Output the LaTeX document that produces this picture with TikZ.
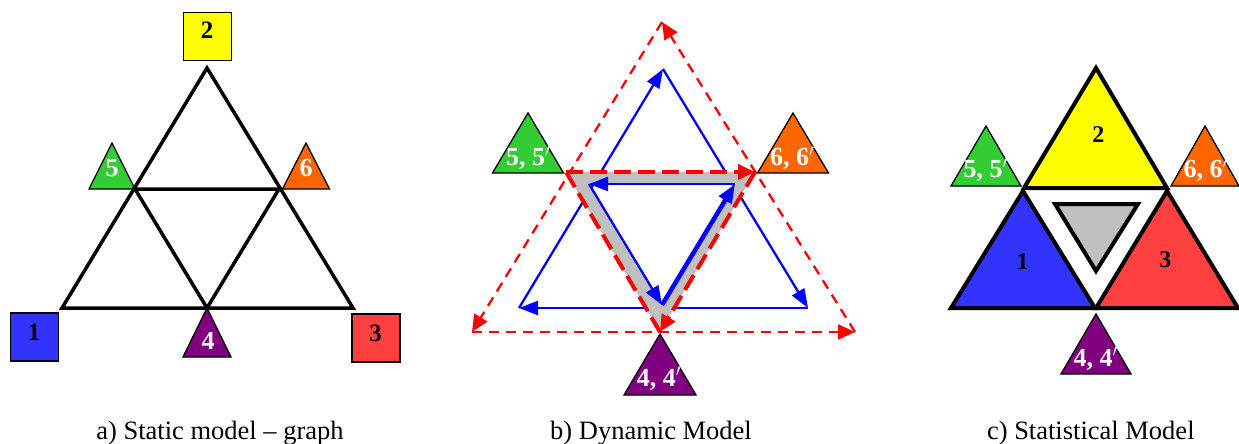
\documentclass[tikz,border=0pt]{standalone}
\usepackage{fontspec}
\setmainfont{Liberation Serif}
\usetikzlibrary{arrows.meta}
\usetikzlibrary{calc}

\definecolor{sqyellow}{HTML}{FFFF00}
\definecolor{sqblue}{HTML}{3333FF}
\definecolor{sqred}{HTML}{FF4040}
\definecolor{trigreen}{HTML}{33CC33}
\definecolor{triorange}{HTML}{FF6600}
\definecolor{tripurple}{HTML}{800080}
\definecolor{silver}{HTML}{C0C0C0}

\begin{document}
\begin{tikzpicture}[x=1pt, y=-1pt, every node/.style={inner sep=0pt},
    sq/.style={draw=black, line width=1.5pt, minimum size=48pt},
    sqlbl/.style={anchor=base, font=\fontsize{25}{25}\selectfont\bfseries},
    tri/.style={draw=black, line width=1.3pt},
    trilbl/.style={anchor=base west, text=white, font=\fontsize{26}{26}\selectfont\bfseries},
    edge/.style={draw=black, line width=3.5pt},
    bigtri/.style={draw=black, line width=4pt},
    bluearc/.style={draw=blue, line width=2.3pt, -{Triangle[length=19pt, width=14pt]}},
    redarc/.style={draw=red, line width=2.3pt, dash pattern=on 10pt off 7pt, -{Triangle[length=17pt, width=15pt]}},
    redthick/.style={draw=red, line width=4pt, dash pattern=on 17pt off 7pt},
    capt/.style={anchor=base, font=\fontsize{26.5}{26.5}\selectfont}]

        \useasboundingbox (0,0) rectangle (1239,444);

        % Draw the small triangles of all three panels
        \foreach \nm/\x/\y/\w/\h/\col in {a5/112/143/46/46/trigreen, a6/306/143/47/46/triorange,
            a4/207/308/48/49/tripurple, b5/528/113/71/60/trigreen, b6/793/113/71/60/triorange,
            b4/660/334/72/61/tripurple, c5/986/126/70/60/trigreen, c6/1205/126/68/60/triorange,
            c4/1096/314/70/60/tripurple}
        {
          \filldraw[tri, fill=\col] (\x,\y) coordinate (top\nm) -- ++({-\w/2},\h) -- ++(\w,0) -- cycle;
        }

        % Panel a: the graph
        \coordinate (a1) at (62,308);
        \coordinate (a2) at (207,68);
        \coordinate (a3) at (353,308);
        \coordinate (m5) at (135,189);
        \coordinate (m6) at (279,189);
        \coordinate (m4) at (207,308);

        \draw[edge] (a1) -- (a2) -- (a3) -- cycle;
        \draw[edge] (m5) -- (m6) -- (m4) -- cycle;

        \node[sq, fill=sqyellow] (sq2) at (207.5,36.5) {};
        \node[sq, fill=sqblue] (sq1) at (34.5,337) {};
        \node[sq, fill=sqred] (sq3) at (376,338) {};
        \node[sqlbl] (l2) at (207,39) {2};
        \node[sqlbl] (l1) at (34,340) {1};
        \node[sqlbl] (l3) at (375.7,341.7) {3};

        \node[trilbl, anchor=base] (la5) at (112,176.7) {5};
        \node[trilbl, anchor=base] (la6) at (306,176.7) {6};
        \node[trilbl, anchor=base] (la4) at (208,349) {4};

        % Panel b: the dynamic model
        \coordinate (ba) at (663,69);
        \coordinate (bl) at (519,308);
        \coordinate (br) at (808,308);
        \coordinate (i5) at (589,184);
        \coordinate (i6) at (735,184);
        \coordinate (i4) at (662,305);
        \coordinate (ra) at (662,22);
        \coordinate (rl) at (472,332);
        \coordinate (rr) at (855,332);
        \coordinate (r5) at (566,172);
        \coordinate (r6) at (755,172);
        \coordinate (r4) at (660,332);

        \draw[bluearc] (bl) -- (ba);
        \draw[bluearc] (ba) -- (br);
        \draw[bluearc] (br) -- (bl);

        \fill[silver, even odd rule] (r5) -- (r6) -- (r4) -- cycle (i5) -- (i6) -- (i4) -- cycle;

        \draw[bluearc, line width=4.5pt] (i4) -- (i6);
        \draw[bluearc] (i6) -- (i5);
        \draw[bluearc] (i5) -- (i4);

        \draw[redarc] (ra) -- (rl);
        \draw[redarc] (rl) -- (rr);
        \draw[redarc] (rr) -- (ra);

        \draw[redthick] (r4) -- (r5);
        \draw[redthick, -{Triangle[length=17pt, width=15pt]}] (r5) -- (r6);
        \draw[redthick, -{Triangle[length=17pt, width=15pt]}] (r6) -- (r4);

        \node[trilbl] (lb5) at (506,165.7) {5, 5$'$};
        \node[trilbl] (lb6) at (770,165.7) {6, 6$'$};
        \node[trilbl] (lb4) at (636.7,386) {4, 4$'$};

        % Panel c: the statistical model
        \filldraw[bigtri, fill=sqyellow] (1096,68) -- (1024,188) -- (1167,188) -- cycle;
        \filldraw[bigtri, fill=sqblue] (1023,191) -- (951,308) -- (1095,308) -- cycle;
        \filldraw[bigtri, fill=sqred] (1167,191) -- (1096,308) -- (1238,308) -- cycle;
        \filldraw[bigtri, fill=silver] (1055,204) -- (1138,204) -- (1096,271) -- cycle;

        \node[sqlbl, font=\fontsize{24}{24}\selectfont\bfseries] (lc2) at (1098.3,142.3) {2};
        \node[sqlbl, font=\fontsize{24}{24}\selectfont\bfseries] (lc1) at (1022.5,269.3) {1};
        \node[sqlbl, font=\fontsize{24}{24}\selectfont\bfseries] (lc3) at (1165.3,267.7) {3};

        \node[trilbl] (lc5) at (963.3,177.3) {5, 5$'$};
        \node[trilbl] (lc6) at (1183.3,177.3) {6, 6$'$};
        \node[trilbl] (lc4) at (1073.3,366) {4, 4$'$};

        % Captions
        \node[capt] (capa) at (220,439.3) {a) Static model -- graph};
        \node[capt] (capb) at (651,439.3) {b) Dynamic Model};
        \node[capt] (capc) at (1090.8,439.3) {c) Statistical Model};
      \end{tikzpicture}
\end{document}
